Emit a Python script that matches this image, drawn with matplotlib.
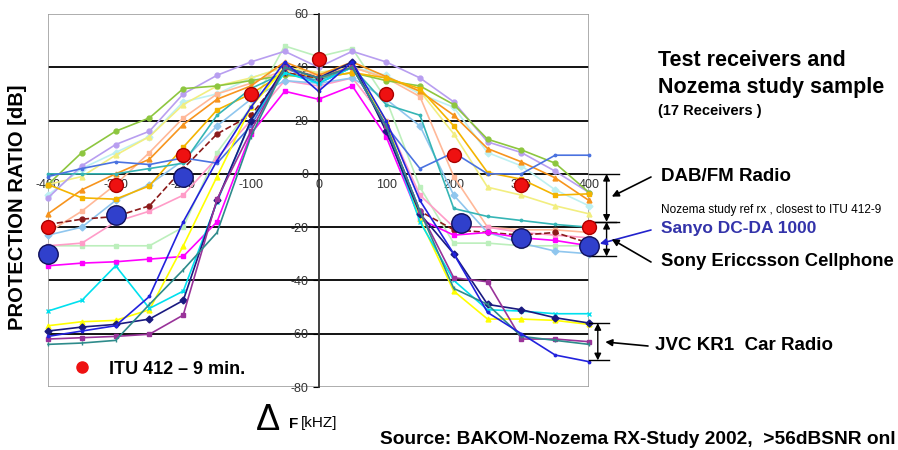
import numpy as np
import matplotlib
matplotlib.use('Agg')
import matplotlib.pyplot as plt

plt.rcParams['font.family'] = ['Liberation Sans', 'DejaVu Sans']

# frequency offsets (kHz)
freq = list(range(-400, 401, 50))

# protection ratio per receiver (dB)
palegreen = [-27, -27, -27, -27, -20, 8, 25, 48, 44, 47, 28, -5, -26, -26, -27, -27, -27]
palecyan = [-8, 2, 8, 14, 27, 30, 36, 40, 38, 40, 37, 30, 25, 8, 3, -6, -12]
paleyel = [-4, -1, 7, 14, 26, 33, 36, 40, 38, 40, 36, 31, 15, -5, -8, -12, -15]
peach = [-22, -14, -4, 8, 21, 30, 34, 39, 37, 40, 36, 29, -1, -20, -21, -21, -22]
pink = [-27, -26, -18, -14, -8, 6, 20, 35, 33, 36, 20, -8, -20, -20, -22, -23, -24]
lightblue = [-23, -20, -10, -4, 5, 18, 28, 35, 34, 36, 28, 18, -8, -22, -26, -29, -30]
lavender = [-9, 3, 11, 16, 30, 37, 42, 46, 40, 46, 42, 36, 27, 12, 8, 1, -7]
green = [-4, 8, 16, 21, 32, 33, 35, 37, 36, 38, 35, 33, 26, 13, 9, 4, -7]
orange = [-15, -6, 0, 5.5, 18.5, 28, 33, 42, 37, 42, 36.5, 31, 22, 9.5, 4.5, -1.5, -10]
gold = [-4, -9, -9.5, -4.5, 10, 24, 30, 38, 36, 38, 36, 32, 18, 0.5, -2, -8, -7.5]
teal = [0, 0, 0, 2, 4, 22, 32, 38, 35, 40, 26, 22, -13, -16, -17.5, -19, -20]
bluemid = [-1, 2, 4.5, 3.5, 6, 4, 18, 40, 34, 40, 18, 2, 8, 0, 0, 7, 7]
brown = [-19, -17, -16, -12, 2, 15, 22, 38, 36, 40, 18, -14, -21, -22, -23, -22, -26]
magenta = [-34.5, -33.5, -33, -32, -31, -18, 15, 31, 28, 33, 14, -17, -23, -22, -24, -25, -27]
yellow = [-57, -55.5, -55, -51, -27, -1, 25, 40, 36, 40, 20, -17, -44, -54.5, -54.5, -55, -56.5]
cyan = [-51.5, -47.5, -34.5, -50.5, -44, -10.5, 20, 38, 34, 40, 18, -18, -40, -51, -51.5, -52.5, -52.5]
navy = [-59, -57.5, -56.5, -54.5, -47.5, -10, 20, 40, 36, 42, 16, -15, -30, -49, -51, -54, -56]
purple = [-62, -61.5, -61, -60.2, -53, -9.5, 16, 40, 36, 40, 18, -14, -39, -40.5, -62, -62, -63]
tealdk = [-64, -63.5, -62.5, -49, -36, -22, 14, 40, 36, 40, 18, -14, -43, -49, -61, -62.5, -64]
blue = [-61, -59, -57, -46, -18, 5, 25, 42, 31, 42, 20, -10, -30, -52, -60, -68, -70.5]

# ITU 412-9 minimum and Sanyo reference receiver
itu_x = [-400, -300, -200, -100, 0, 100, 200, 300, 400]
itu_y = [-20, -4, 7, 30, 43, 30, 7, -4, -20]
sanyo_x = [-400, -300, -200, 210, 300, 400]
sanyo_y = [-30, -15.5, -1, -18.5, -24, -27]

series = [
    (palegreen, '#BCEFBC', 's', '-'),
    (palecyan, '#BDF0F2', 'D', '-'),
    (paleyel, '#F2EE80', '^', '-'),
    (peach, '#FFB898', 's', '-'),
    (pink, '#FF9CC8', 's', '-'),
    (lightblue, '#8FC6EE', 'D', '-'),
    (lavender, '#B89EF0', 'o', '-'),
    (green, '#8DC63F', 'o', '-'),
    (orange, '#F7941D', '^', '-'),
    (gold, '#F4B400', 's', '-'),
    (teal, '#35B5B5', '.', '-'),
    (bluemid, '#4A72E0', '.', '-'),
    (brown, '#8B1A1A', 'o', '--'),
    (magenta, '#FF00FF', 's', '-'),
    (yellow, '#FFFF00', '^', '-'),
    (cyan, '#00E0EE', 'x', '-'),
    (navy, '#1A1A80', 'D', '-'),
    (purple, '#993399', 's', '-'),
    (tealdk, '#2E8B8B', '|', '-'),
    (blue, '#2222DD', '.', '-'),
]

fig = plt.figure(figsize=(8.98, 4.5), dpi=100)
ax = fig.add_axes([48/898, 1-387/450, 541/898, 373/450])
ax.set_xlim(-400, 400)
ax.set_ylim(-80, 60)

# grid
for g in [40, 20, 0, -20, -40, -60]:
    ax.axhline(g, color='black', lw=1.3, zorder=1)

for vals, col, mk, ls in series:
    ax.plot(freq, vals, color=col, marker=mk, ms=3.5, lw=1.2, ls=ls, zorder=2, clip_on=False)

ax.plot(itu_x, itu_y, 'o', color='#EE1111', mec='#AA0000', ms=10, zorder=5, clip_on=False)
ax.plot(sanyo_x, sanyo_y, 'o', color='#3040CC', mec='#10105A', ms=14, zorder=5, clip_on=False)

# axes through the origin
ax.spines['left'].set_position(('data', 0))
ax.spines['left'].set_color('#303030')
ax.spines['left'].set_linewidth(1.3)
ax.spines['bottom'].set_position(('data', 0))
ax.spines['bottom'].set_visible(False)
ax.spines['top'].set_visible(False)
ax.spines['right'].set_visible(False)
for xx in [-400, 400]:
    ax.axvline(xx, color='#A0A0A0', lw=1.2, zorder=1)
for yy in [60, -80]:
    ax.axhline(yy, color='#A0A0A0', lw=1.2, zorder=1)

ax.set_xticks(range(-400, 401, 100))
ax.set_xticklabels([str(v) for v in range(-400, 401, 100)])
ax.set_yticks(range(-80, 61, 20))
ax.set_yticklabels([str(v) for v in range(-80, 61, 20)])
ax.tick_params(axis='x', length=0, pad=4, labelsize=9, labelcolor='#333333')
ax.tick_params(axis='y', length=4, pad=3, labelsize=9, labelcolor='#333333', direction='out')

# legend entry
ax.plot([-350], [-72.5], 'o', color='#EE1111', ms=8, clip_on=False)
ax.text(-310, -73.5, 'ITU 412 \u2013 9 min.', fontsize=13, fontweight='bold', va='center')

# brackets on the right
def bracket(y1, y2, xa, xend):
    for yy in (y1, y2):
        ax.plot([400, xend], [yy, yy], color='black', lw=1, clip_on=False)
    ax.annotate('', xy=(xa, y1), xytext=(xa, y2), annotation_clip=False,
                arrowprops=dict(arrowstyle='<|-|>', color='black', lw=1, mutation_scale=10,
                                shrinkA=0, shrinkB=0))

bracket(0, -18, 426, 445)
bracket(-18, -31, 426, 440)
bracket(-56, -70, 413, 430)

def px(x, y):
    return (x / 898, 1 - y / 450)

def arrow(xy, txt_px, col='black'):
    ax.annotate('', xy=xy, xytext=px(*txt_px), textcoords='figure fraction',
                annotation_clip=False,
                arrowprops=dict(arrowstyle='-|>', color=col, lw=1.2, mutation_scale=10, shrinkA=0))

arrow((430, -9), (651, 177))
arrow((412, -26.5), (651, 230), col='#2222CC')
arrow((430, -24), (651, 262))
arrow((420, -63), (648, 346))

# texts
fig.text(*px(658, 60), 'Test receivers and', fontsize=15.5, fontweight='bold', va='center')
fig.text(*px(658, 87), 'Nozema study sample', fontsize=15.5, fontweight='bold', va='center')
fig.text(*px(658, 111), '(17 Receivers )', fontsize=10.5, fontweight='bold', va='center')
fig.text(*px(661, 176), 'DAB/FM Radio', fontsize=13.5, fontweight='bold', va='center')
fig.text(*px(661, 210), 'Nozema study ref rx , closest to ITU 412-9', fontsize=8.5, va='center')
fig.text(*px(661, 228), 'Sanyo DC-DA 1000', fontsize=12.5, fontweight='bold', color='#3333AA', va='center')
fig.text(*px(661, 262), 'Sony Ericcsson Cellphone', fontsize=13.3, fontweight='bold', va='center')
fig.text(*px(655, 346), 'JVC KR1  Car Radio', fontsize=13.5, fontweight='bold', va='center')
fig.text(*px(18, 207), 'PROTECTION RATIO [dB]', fontsize=14.5, fontweight='bold',
         rotation=90, ha='center', va='center')
fig.text(*px(268, 420), '\u0394', fontsize=26, ha='center', va='center')
fig.text(*px(289, 424), 'F', fontsize=11, fontweight='bold', va='center')
fig.text(*px(301, 423), '[kHZ]', fontsize=11, va='center')
fig.text(*px(380, 440), 'Source: BAKOM-Nozema RX-Study 2002,  >56dBSNR onl', fontsize=13.8,
         fontweight='bold', va='center')

fig.savefig('out.png', dpi=100)
